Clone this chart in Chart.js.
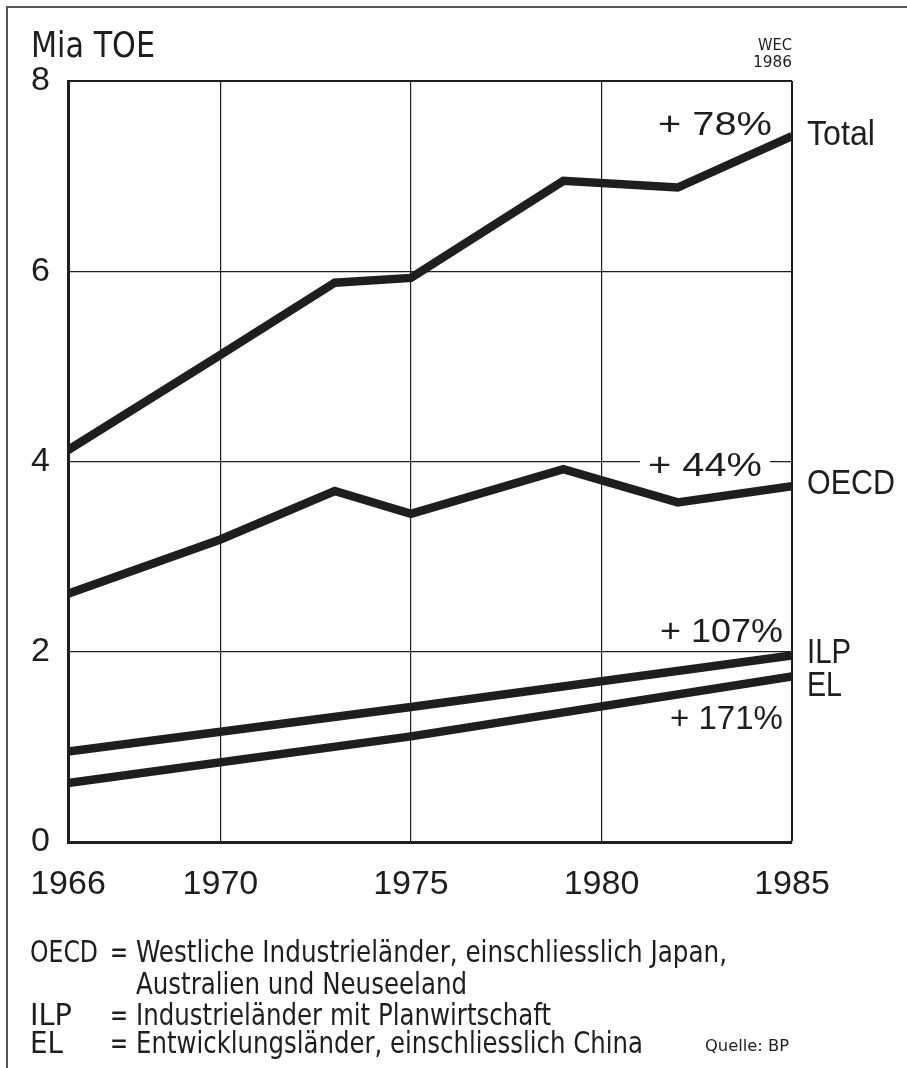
<!DOCTYPE html>
<html>
<head>
<meta charset="utf-8">
<script src="https://cdn.jsdelivr.net/npm/chart.js@4"></script>
<style>
  html, body { margin: 0; padding: 0; background: #fff; }
  canvas { display: block; }
</style>
</head>
<body>
<canvas id="energyChart" width="907" height="1068"></canvas>
<script>
// values (Mia TOE)
const years = [1966, 1970, 1973, 1975, 1979, 1982, 1985];
const totalValues = [4.12, 5.12, 5.88, 5.93, 6.95, 6.88, 7.42];
const oecdValues = [2.61, 3.18, 3.69, 3.45, 3.92, 3.57, 3.74];
const ilpYears = [1966, 1975, 1985];
const ilpValues = [0.95, 1.42, 1.96];
const elYears = [1966, 1975, 1985];
const elValues = [0.62, 1.11, 1.74];

const xTicks = [1966, 1970, 1975, 1980, 1985];
const yTicks = [0, 2, 4, 6, 8];

const seriesNames = ['Total', 'OECD', 'ILP', 'EL'];
const changeLabels = ['+ 78%', '+ 44%', '+ 107%', '+ 171%'];

const footnotes = [
    ['OECD', 'Westliche Industrieländer, einschliesslich Japan,'],
    ['', 'Australien und Neuseeland'],
    ['ILP', 'Industrieländer mit Planwirtschaft'],
    ['EL', 'Entwicklungsländer, einschliesslich China']
];

const INK = '#1e1e1e';
const FONT = '"Liberation Sans", Arial, sans-serif';
const NARROW = '"Liberation Sans Narrow", "DejaVu Sans Condensed", "Liberation Sans", sans-serif';

function toPoints(xs, ys) {
    return xs.map((x, i) => ({ x: x, y: ys[i] }));
}

// draw text squeezed/stretched to a given width
function fitText(ctx, str, x, y, size, family, width, align) {
    ctx.font = size + 'px ' + family;
    const w = ctx.measureText(str).width;
    const sx = width ? width / w : 1;
    ctx.save();
    ctx.translate(x, y);
    ctx.scale(sx, 1);
    ctx.textAlign = align || 'left';
    ctx.textBaseline = 'alphabetic';
    ctx.fillText(str, 0, 0);
    ctx.restore();
}

const lineStyle = {
    borderColor: INK,
    borderWidth: 8.5,
    pointRadius: 0,
    fill: false,
    tension: 0,
    borderJoinStyle: 'miter',
    clip: 0
};

// white box behind "+ 44%" so the grid line is broken there
const gapPlugin = {
    id: 'gap',
    beforeDatasetsDraw(chart) {
        const ctx = chart.ctx;
        const y = chart.scales.y.getPixelForValue(4);
        ctx.save();
        ctx.fillStyle = '#fff';
        ctx.fillRect(chart.chartArea.right - 152, y - 14, 130, 28);
        ctx.restore();
    }
};

const textPlugin = {
    id: 'texts',
    afterDraw(chart) {
        const ctx = chart.ctx;
        const area = chart.chartArea;
        ctx.save();
        ctx.fillStyle = INK;

        // outer frame
        ctx.strokeStyle = '#555';
        ctx.lineWidth = 2;
        ctx.beginPath();
        ctx.moveTo(7, 1068);
        ctx.lineTo(7, 7);
        ctx.lineTo(907, 7);
        ctx.stroke();

        // unit and source top
        fitText(ctx, 'Mia TOE', 31, 57, 35, NARROW, 124, 'left');
        fitText(ctx, 'WEC', area.right, 50, 16, NARROW, 34, 'right');
        fitText(ctx, '1986', area.right, 67, 16, NARROW, 39, 'right');

        // growth labels (right edge, baseline, width)
        const changePos = [[772, 135, 114], [762, 476, 114], [783, 642, 123], [783, 729, 113]];
        changeLabels.forEach((t, i) => {
            const p = changePos[i];
            fitText(ctx, t, p[0], p[1], 34, FONT, p[2], 'right');
        });

        // series names to the right of the plot
        const namePos = [[145, 68], [494, 88], [663, 44], [696, 35]];
        seriesNames.forEach((t, i) => {
            const p = namePos[i];
            fitText(ctx, t, area.right + 15, p[0], 35, FONT, p[1], 'left');
        });

        // footnotes
        const baselines = [962, 994, 1025, 1053];
        const textWidths = [591, 331, 415, 507];
        const abbrWidths = [68, 0, 42, 33];
        footnotes.forEach((f, i) => {
            if (f[0]) {
                fitText(ctx, f[0], 30, baselines[i], 30, NARROW, abbrWidths[i], 'left');
                fitText(ctx, '=', 110, baselines[i], 30, NARROW, 18, 'left');
            }
            fitText(ctx, f[1], 136, baselines[i], 30, NARROW, textWidths[i], 'left');
        });
        fitText(ctx, 'Quelle: BP', 705, 1051, 16, NARROW, 84, 'left');
        ctx.restore();
    }
};

function createEnergyChart() {
    const ctx = document.getElementById('energyChart').getContext('2d');

    new Chart(ctx, {
        type: 'line',
        data: {
            datasets: [
                Object.assign({ label: seriesNames[0], data: toPoints(years, totalValues) }, lineStyle),
                Object.assign({ label: seriesNames[1], data: toPoints(years, oecdValues) }, lineStyle),
                Object.assign({ label: seriesNames[2], data: toPoints(ilpYears, ilpValues) }, lineStyle),
                Object.assign({ label: seriesNames[3], data: toPoints(elYears, elValues) }, lineStyle)
            ]
        },
        options: {
            responsive: false,
            animation: false,
            events: [],
            layout: { padding: { left: 0, top: 81, right: 115, bottom: 0 } },
            plugins: {
                legend: { display: false },
                tooltip: { enabled: false }
            },
            scales: {
                x: {
                    type: 'linear',
                    min: 1966,
                    max: 1985,
                    afterBuildTicks: scale => { scale.ticks = xTicks.map(v => ({ value: v })); },
                    afterFit: scale => { scale.height = 1068 - 842; },
                    grid: {
                        color: INK,
                        lineWidth: c => (c.tick && c.tick.value === 1985 ? 2 : 1.2),
                        drawTicks: false
                    },
                    border: { display: true, color: INK, width: 3 },
                    ticks: {
                        color: INK,
                        padding: 22,
                        maxRotation: 0,
                        font: { family: FONT, size: 34 },
                        callback: v => String(v)
                    }
                },
                y: {
                    min: 0,
                    max: 8,
                    afterBuildTicks: scale => { scale.ticks = yTicks.map(v => ({ value: v })); },
                    afterFit: scale => { scale.width = 68; },
                    grid: {
                        color: INK,
                        lineWidth: c => (c.tick && c.tick.value === 8 ? 2 : 1.2),
                        drawTicks: false
                    },
                    border: { display: true, color: INK, width: 3 },
                    ticks: {
                        color: INK,
                        padding: 18,
                        font: { family: FONT, size: 34 }
                    }
                }
            }
        },
        plugins: [gapPlugin, textPlugin]
    });
}

window.onload = function() {
    createEnergyChart();
};
</script>
</body>
</html>
